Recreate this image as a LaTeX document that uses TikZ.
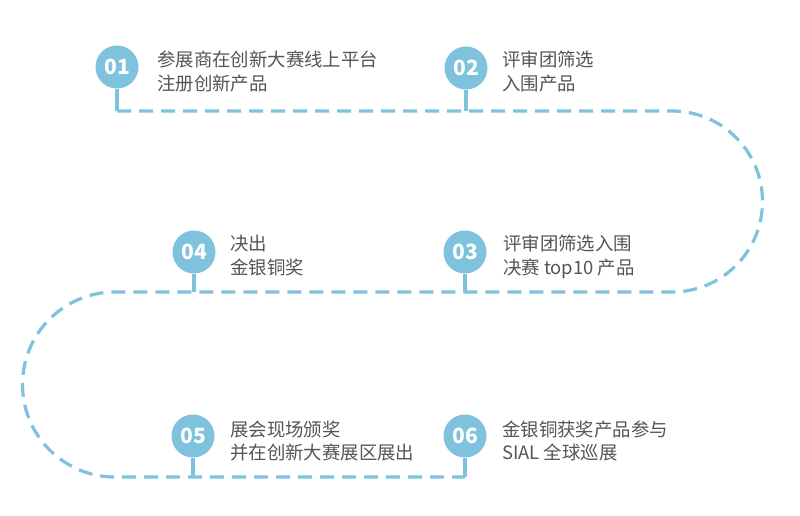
\documentclass[tikz,border=0pt]{standalone}
\usepackage{fontspec}
\newfontfamily\cjk{Noto Sans CJK SC}
\definecolor{lblue}{HTML}{7EC2DE}
\definecolor{txtgray}{HTML}{555555}
\begin{document}
\begin{tikzpicture}[x=1pt,y=1pt,
 dot/.style={circle,fill=lblue,minimum size=43pt,inner sep=0pt,text=white,font=\cjk\bfseries\fontsize{21}{21}\selectfont},
 lbl/.style={anchor=base west,inner sep=0pt,text=txtgray,font=\cjk\fontsize{18.4}{18.4}\selectfont},
 route/.style={draw=lblue,line width=3.2pt,dash pattern=on 14pt off 8pt},
 stem/.style={draw=lblue,line width=3.6pt}]
\useasboundingbox (0,0) rectangle (800,515);
\fill[white] (0,0) rectangle (800,515);
% route points
\coordinate (p1) at (117,404);
\coordinate (p2) at (466,404);
\coordinate (r1) at (672,404);
\coordinate (l1) at (115,223);
\coordinate (p3) at (465,223);
\coordinate (p4) at (194,223);
\coordinate (p5) at (193,38);
\coordinate (p6) at (465,38);
\draw[route] (p1) -- (r1) arc[start angle=90,end angle=-90,radius=90.5] -- (l1) arc[start angle=90,end angle=270,radius=92.5] -- (p6);
% circles
\node[dot] (n1) at (117,448) {01};
\node[dot] (n2) at (466,447) {02};
\node[dot] (n3) at (465,263) {03};
\node[dot] (n4) at (194,263) {04};
\node[dot] (n5) at (193,79) {05};
\node[dot] (n6) at (465,79) {06};
% stems
\draw[stem] (n1.south) -- (p1);
\draw[stem] (n2.south) -- (p2);
\draw[stem] (n3.south) -- (p3);
\draw[stem] (n4.south) -- (p4);
\draw[stem] (n5.south) -- (p5);
\draw[stem] (n6.south) -- (p6);
% labels
\node[lbl] (t1a) at (157,448) {参展商在创新大赛线上平台};
\node[lbl] (t1b) at (157,424.5) {注册创新产品};
\node[lbl] (t2a) at (502,448) {评审团筛选};
\node[lbl] (t2b) at (502,424.5) {入围产品};
\node[lbl] (t3a) at (503,265) {评审团筛选入围};
\node[lbl] (t3b) at (503,241) {决赛 top10 产品};
\node[lbl] (t4a) at (230,265) {决出};
\node[lbl] (t4b) at (230,241) {金银铜奖};
\node[lbl] (t5a) at (230,79) {展会现场颁奖};
\node[lbl] (t5b) at (230,56) {并在创新大赛展区展出};
\node[lbl] (t6a) at (502,79) {金银铜获奖产品参与};
\node[lbl] (t6b) at (502,56) {SIAL 全球巡展};
\end{tikzpicture}
\end{document}
